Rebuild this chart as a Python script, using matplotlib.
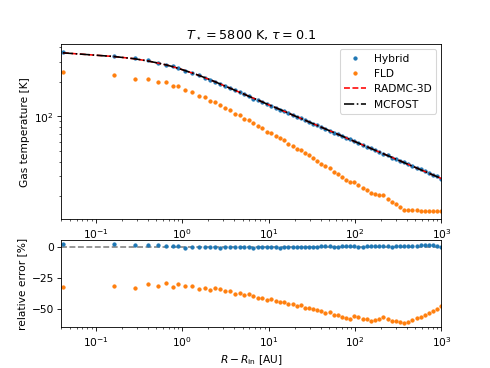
import numpy as np
import matplotlib
matplotlib.use("Agg")
import matplotlib.pyplot as plt

# radial grid, log10(R - R_in) [AU]
log_x = [-1.379, -0.790, -0.547, -0.390, -0.274, -0.181, -0.108,
         -0.043, 0.038, 0.116, 0.190, 0.260, 0.322, 0.382, 0.440, 0.498, 0.555,
         0.611, 0.666, 0.720, 0.773, 0.826, 0.878, 0.930, 0.981, 1.032, 1.082,
         1.132, 1.181, 1.230, 1.278, 1.326, 1.373, 1.420, 1.466,
         1.514, 1.562, 1.610, 1.658, 1.706, 1.754, 1.802, 1.850, 1.898, 1.945,
         1.993, 2.041, 2.089, 2.137, 2.185, 2.233, 2.281, 2.329, 2.377, 2.425,
         2.473, 2.521, 2.569, 2.617, 2.665, 2.713, 2.761, 2.809, 2.857, 2.904,
         2.952, 3.000]

# log10 of reference (RADMC-3D / MCFOST) gas temperature [K]
log_T_ref = [2.554, 2.522, 2.502, 2.482, 2.464, 2.448, 2.433,
             2.418, 2.398, 2.378, 2.358, 2.338, 2.319, 2.301, 2.282, 2.263, 2.245,
             2.227, 2.209, 2.192, 2.174, 2.157, 2.141, 2.124, 2.107, 2.091, 2.075,
             2.059, 2.043, 2.027, 2.011, 1.996, 1.981, 1.966, 1.951,
             1.935, 1.920, 1.904, 1.889, 1.873, 1.858, 1.842, 1.827, 1.811, 1.796,
             1.780, 1.765, 1.749, 1.734, 1.718, 1.703, 1.687, 1.672, 1.656, 1.641,
             1.625, 1.610, 1.594, 1.579, 1.563, 1.548, 1.532, 1.517, 1.501, 1.486,
             1.471, 1.455]

# relative error [%] of the hybrid scheme
err_hybrid = [2.2, 1.8, 1.5, 1.2, 1.0, 0.9, 0.7,
              0.5, -0.9, -0.3, -0.3, -0.2, -0.3, -0.3, -0.9, -0.3, -0.3,
              -0.2, -0.3, -0.2, -0.2, -0.8, -0.3, -0.2, -0.2, -0.1, -0.1,
              -0.7, -0.2, -0.1, 0.0, 0.0, 0.1, 0.0, 0.0,
              -0.5, 0.1, 0.2, 0.3, 0.3, -0.6, 0.0, 0.2, 0.3, 0.2,
              0.3, -0.6, 0.1, 0.2, 0.3, 0.4, 0.3, 0.4, 0.3, -0.5,
              0.3, 0.5, 0.5, 0.6, 0.3, 0.8, 1.0, 1.1, 1.2, 1.0,
              0.8, 0.0]

# relative error [%] of FLD
err_fld = [-32.6, -31.2, -33.1, -29.8, -31.2, -28.8, -32.0,
           -29.6, -31.8, -31.8, -33.6, -32.8, -35.0, -33.1, -34.2, -35.8, -35.8,
           -37.6, -37.1, -39.0, -37.6, -39.5, -40.9, -41.1, -42.7, -42.2, -43.8,
           -44.0, -44.4, -46.0, -46.0, -47.8, -47.0, -48.9, -49.2,
           -50.3, -51.1, -51.9, -53.0, -52.4, -54.6, -55.1, -56.4, -57.0, -57.8,
           -55.6, -56.7, -58.3, -58.3, -59.4, -58.6, -57.8, -56.7, -58.3, -59.2,
           -59.7, -60.5, -61.6, -60.4, -59.0, -57.5, -56.0, -54.6, -53.0, -51.5,
           -49.7, -47.7]

x = 10 ** np.array(log_x)
T_ref = 10 ** np.array(log_T_ref)
e_h = np.array(err_hybrid)
e_f = np.array(err_fld)
T_hybrid = T_ref * (1 + e_h / 100)
T_fld = T_ref * (1 + e_f / 100)

fig = plt.figure(figsize=(490.4 / 76.6, 368.4 / 76.6), dpi=76.6)
gs = fig.add_gridspec(2, 1, height_ratios=[2, 1], hspace=0.16,
                      left=0.125, right=0.9, top=0.88, bottom=0.11)
ax1 = fig.add_subplot(gs[0])
ax2 = fig.add_subplot(gs[1])

ax1.plot(x, T_hybrid, '.', color='C0', label='Hybrid')
ax1.plot(x, T_fld, '.', color='C1', label='FLD')
ax1.plot(x, T_ref, 'r--', label='RADMC-3D')
ax1.plot(x, T_ref, 'k-.', label='MCFOST')
ax1.set_xscale('log')
ax1.set_yscale('log')
ax1.set_xlim(0.04, 1000)
ax1.set_ylabel('Gas temperature [K]')
ax1.set_title(r'$T_\star = 5800$ K, $\tau = 0.1$')
ax1.legend(loc='upper right')

ax2.axhline(0, color='gray', ls='--')
ax2.plot(x, e_h, '.', color='C0')
ax2.plot(x, e_f, '.', color='C1')
ax2.set_xscale('log')
ax2.set_xlim(0.04, 1000)
ax2.set_yticks([0, -25, -50])
ax2.set_ylabel('relative error [%]')
ax2.set_xlabel(r'$R - R_\mathrm{in}$ [AU]')

fig.savefig('out.png', dpi=76.6)
